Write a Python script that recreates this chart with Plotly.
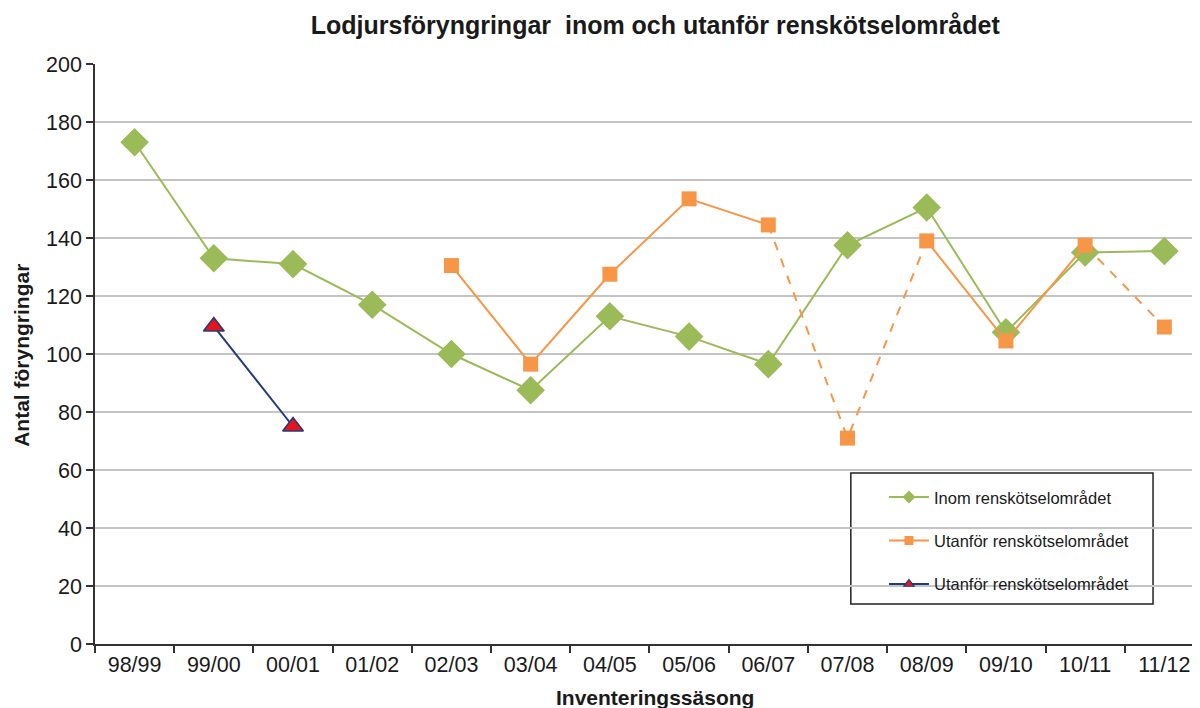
import plotly.graph_objects as go

categories = ["98/99", "99/00", "00/01", "01/02", "02/03", "03/04", "04/05",
              "05/06", "06/07", "07/08", "08/09", "09/10", "10/11", "11/12"]
inom = [173, 133, 131, 117, 100, 87.5, 113, 106, 96.5, 137.5, 150.5, 107.5, 135, 135.5]
utanfor = [None, None, None, None, 130.5, 96.5, 127.5, 153.5, 144.5, 71, 139, 104.5, 137.5, 109.3]
# segment style of the orange line leaving each point: "s" solid, "d" dashed
utanfor_seg = [None, None, None, None, "s", "s", "s", "s", "d", "d", "s", "s", "d", None]
utanfor2 = [None, 109.5, 75, None, None, None, None, None, None, None, None, None, None, None]
names = ["Inom renskötselområdet", "Utanför renskötselområdet", "Utanför renskötselområdet"]

GREEN = "#9BBB59"
ORANGE = "#F79646"
NAVY = "#1F3D7A"
RED = "#E8141C"
FONT = "Liberation Sans, Arial, sans-serif"
TXT = "#1a1a1a"

n = len(categories)
solid_mask = [False] * n
dash_mask = [False] * n
for i, s in enumerate(utanfor_seg):
    if s == "s":
        solid_mask[i] = solid_mask[i + 1] = True
    elif s == "d":
        dash_mask[i] = dash_mask[i + 1] = True
orange_solid = [v if solid_mask[i] else None for i, v in enumerate(utanfor)]
orange_dash = [v if dash_mask[i] else None for i, v in enumerate(utanfor)]

fig = go.Figure()
fig.add_trace(go.Scatter(
    x=categories, y=inom, mode="lines+markers", showlegend=False,
    line=dict(color=GREEN, width=2),
    marker=dict(symbol="diamond", size=22, color=GREEN)))
fig.add_trace(go.Scatter(
    x=categories, y=orange_dash, mode="lines", showlegend=False,
    line=dict(color=ORANGE, width=2, dash="dash"), connectgaps=False))
fig.add_trace(go.Scatter(
    x=categories, y=orange_solid, mode="lines", showlegend=False,
    line=dict(color=ORANGE, width=2), connectgaps=False))
fig.add_trace(go.Scatter(
    x=categories, y=utanfor, mode="markers", showlegend=False,
    marker=dict(symbol="square", size=15, color=ORANGE)))
fig.add_trace(go.Scatter(
    x=categories, y=utanfor2, mode="lines+markers", showlegend=False,
    line=dict(color=NAVY, width=2),
    marker=dict(symbol="triangle-up", size=18, color=RED,
                line=dict(color=NAVY, width=1.5))))

# legend entries (small symbols as in the reference legend)
fig.add_trace(go.Scatter(x=[None], y=[None], mode="lines+markers", name=names[0],
                         line=dict(color=GREEN, width=2),
                         marker=dict(symbol="diamond", size=10, color=GREEN),
                         legendgroup="a"))
fig.add_trace(go.Scatter(x=[None], y=[None], mode="lines+markers", name=names[1],
                         line=dict(color=ORANGE, width=2),
                         marker=dict(symbol="square", size=9, color=ORANGE),
                         legendgroup="b"))
fig.add_trace(go.Scatter(x=[None], y=[None], mode="lines+markers", name=names[2],
                         line=dict(color=NAVY, width=2),
                         marker=dict(symbol="triangle-up", size=9, color=RED,
                                     line=dict(color=NAVY, width=1.2)),
                         legendgroup="c"))

fig.update_layout(
    width=1192, height=700,
    margin=dict(l=87, r=0, t=56, b=64, autoexpand=False),
    paper_bgcolor="white", plot_bgcolor="white",
    font=dict(family=FONT, color=TXT, size=21),
    title=dict(text="<b>Lodjursföryngringar  inom och utanför renskötselområdet</b>",
               x=0.543, xanchor="center", y=0.976, yanchor="middle",
               font=dict(size=25, family=FONT, color=TXT)),
    showlegend=True,
    legend=dict(x=0.714, y=0.283, xanchor="left", yanchor="top",
                bgcolor="rgba(0,0,0,0)", borderwidth=0,
                font=dict(size=16.5, family=FONT, color=TXT),
                traceorder="grouped", tracegroupgap=19, itemwidth=40),
    shapes=[dict(type="rect", xref="paper", yref="paper",
                 x0=0.684, x1=0.9575, y0=0.069, y1=0.295,
                 line=dict(color="#222222", width=1.5), fillcolor="white",
                 layer="below")],
    annotations=[
        dict(text="<b>Inventeringssäsong</b>", xref="paper", yref="paper",
             x=0.507, y=-0.0914, xanchor="center", yanchor="middle",
             showarrow=False, font=dict(size=21, family=FONT, color=TXT)),
        dict(text="<b>Antal föryngringar</b>", xref="paper", yref="paper",
             x=-0.066, y=0.497, xanchor="center", yanchor="middle", textangle=-90,
             showarrow=False, font=dict(size=21, family=FONT, color=TXT)),
    ],
)
fig.update_xaxes(
    type="category", range=[-0.5, 13.45], automargin=False,
    tickson="boundaries", ticks="outside", ticklen=7, tickwidth=1.5, tickcolor="#333",
    showline=True, linecolor="#333", linewidth=1.5, showgrid=False,
    tickfont=dict(size=21.5, family=FONT, color=TXT))
fig.update_yaxes(
    range=[0, 200], dtick=20, automargin=False,
    ticks="outside", ticklen=7, tickwidth=1.5, tickcolor="#333",
    showline=True, linecolor="#333", linewidth=1.5,
    showgrid=True, gridcolor="#C4C4C4", gridwidth=1.5, zeroline=False,
    tickfont=dict(size=21.5, family=FONT, color=TXT))

fig.write_html("out.html")
